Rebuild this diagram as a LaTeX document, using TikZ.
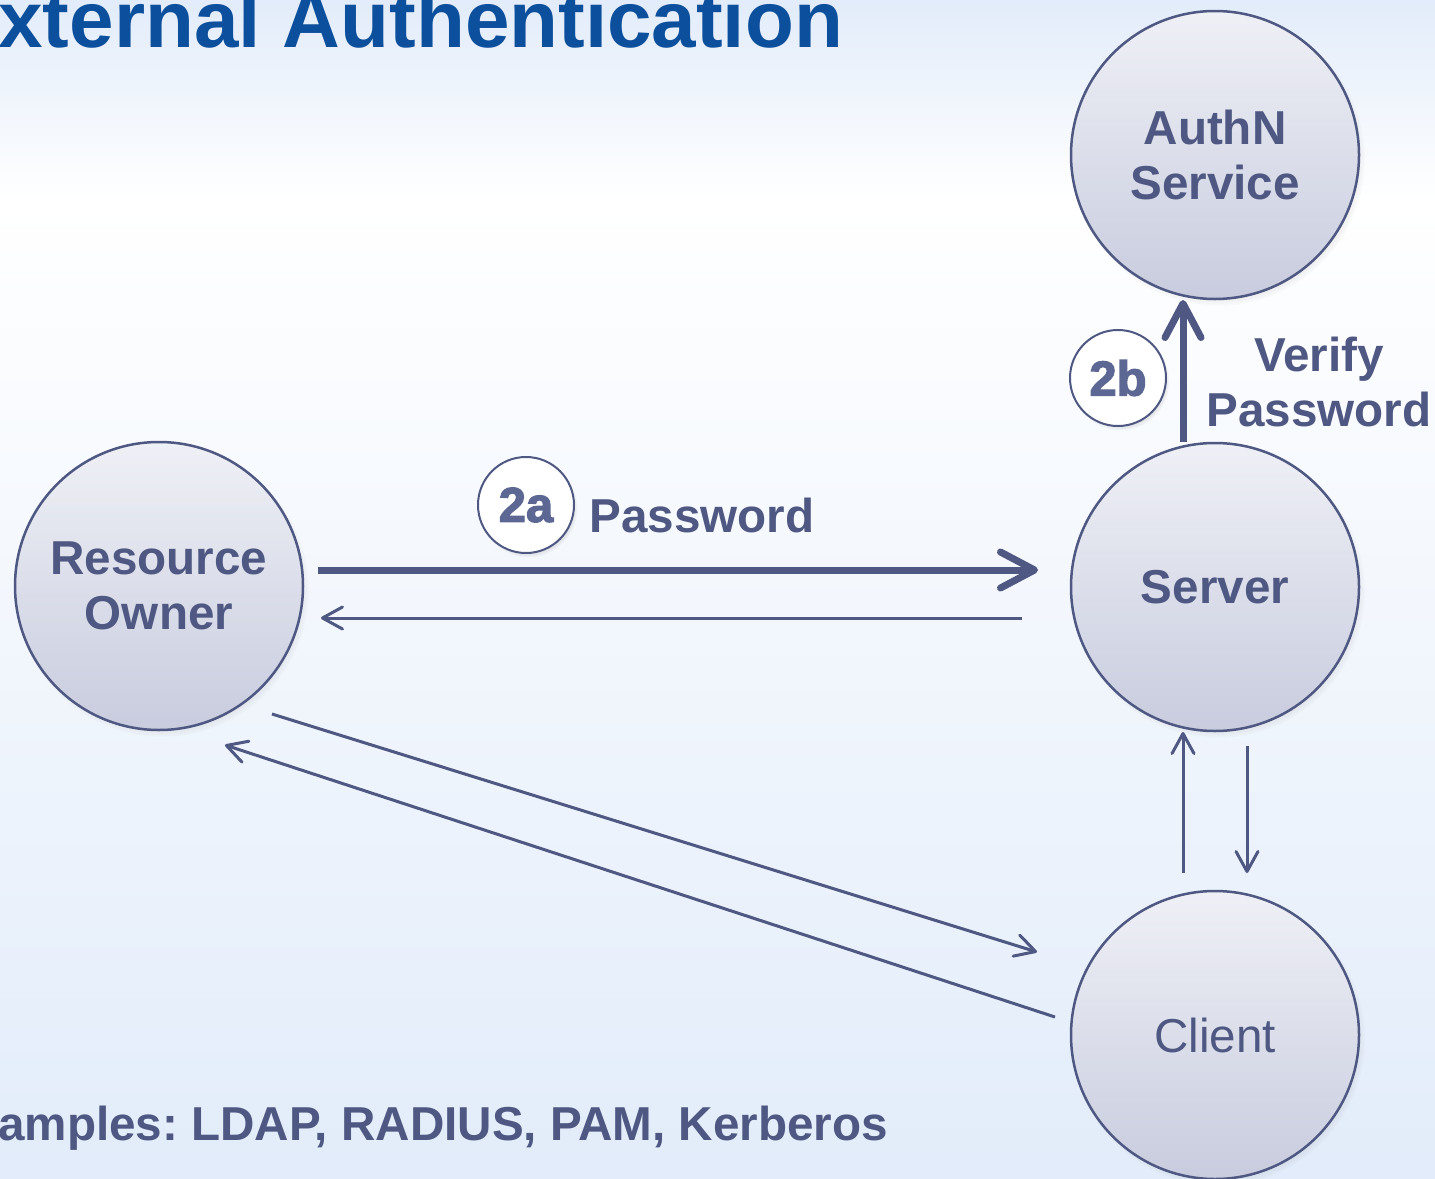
\documentclass[tikz,border=0pt]{standalone}
\usepackage{fontspec}
\setmainfont{Liberation Sans}
\newfontfamily\badgefont[FakeBold=2.5]{Liberation Sans Bold}
\usetikzlibrary{arrows.meta,shadows,calc}
\definecolor{ink}{RGB}{78,88,130}
\definecolor{badgeink}{RGB}{92,103,147}
\definecolor{titleblue}{RGB}{12,79,156}
\definecolor{circtop}{RGB}{239,240,246}
\definecolor{circbot}{RGB}{200,204,222}
\definecolor{bgblue}{RGB}{226,236,250}
\frenchspacing
\begin{document}
\begin{tikzpicture}[x=0.5pt,y=-0.5pt,
  actor/.style={circle, draw=ink, line width=1.25pt, minimum size=144pt, inner sep=0pt,
    top color=circtop, bottom color=circbot, text=ink, align=center,
    font=\fontsize{23.8}{27.5}\selectfont\bfseries,
    circular drop shadow={shadow xshift=1.5pt, shadow yshift=-2pt, shadow scale=1.02, opacity=0.35}},
  badge/.style={circle, draw=ink, line width=1pt, fill=white, minimum size=48pt, inner sep=0pt,
    text=badgeink, font=\badgefont\fontsize{24.5}{24.5}\selectfont,
    circular drop shadow={shadow xshift=1pt, shadow yshift=-1.5pt, shadow scale=1.03, opacity=0.3}},
  lbl/.style={text=ink, inner sep=0pt, align=center, font=\fontsize{23.8}{27.5}\selectfont\bfseries},
  thickflow/.style={draw=ink, line width=3.5pt, -{Straight Barb[length=17pt,width=18pt,round]}},
  thinflow/.style={draw=ink, line width=1.5pt, -{Straight Barb[length=10pt,width=11pt,round]}}
]
\useasboundingbox (0,0) rectangle (1435,1178);
% background
\fill[top color=bgblue, bottom color=white] (0,0) rectangle (1435,200);
\fill[top color=white, middle color=white, bottom color=bgblue] (0,200) rectangle (1435,1178);

% title and footer
\node[anchor=base west, inner sep=0pt, text=titleblue, font=\fontsize{40}{40}\selectfont\bfseries] (title) at (-2,47) {xternal Authentication};
\node[anchor=base west, inner sep=0pt, text=ink, font=\fontsize{23.8}{27.5}\selectfont\bfseries] (examples) at (-2,1140) {amples: LDAP, RADIUS, PAM, Kerberos};

% actors
\node[actor] (auth) at (1215,155) {AuthN\\Service};
\node[actor] (server) at (1215,587) {Server};
\node[actor, font=\fontsize{23.8}{27.5}\selectfont] (client) at (1215,1035) {Client};
\node[actor] (ro) at (159,586) {Resource\\Owner};

% badges and labels
\node[badge] (b2a) at (526,505) {2a};
\node[lbl, anchor=base west] (lblpw) at (589,532) {Password};
\node[badge] (b2b) at (1118,378) {2b};
\node[lbl, anchor=center] (lblverify) at (1319,382) {Verify\\Password};

% connector end points
\coordinate (p1s) at ($(ro.center)+(159,-16)$);
\coordinate (p1e) at ($(server.center)+(-177,-17)$);
\coordinate (p2s) at ($(server.center)+(-193,31)$);
\coordinate (p2e) at ($(ro.center)+(162,32)$);
\coordinate (p3s) at ($(server.center)+(-32,-145)$);
\coordinate (p3e) at ($(auth.center)+(-32,145)$);
\coordinate (p4s) at ($(client.center)+(-32,-162)$);
\coordinate (p4e) at ($(server.center)+(-32,145)$);
\coordinate (p5s) at ($(server.center)+(32,159)$);
\coordinate (p5e) at ($(client.center)+(32,-162)$);
\coordinate (p6s) at ($(ro.center)+(113,128)$);
\coordinate (p6e) at ($(client.center)+(-178,-83)$);
\coordinate (p7s) at ($(client.center)+(-160,-18)$);
\coordinate (p7e) at ($(ro.center)+(66,159)$);

% connectors
\draw[thickflow] (p1s) -- (p1e);
\draw[thinflow] (p2s) -- (p2e);
\draw[thickflow] (p3s) -- (p3e);
\draw[thinflow] (p4s) -- (p4e);
\draw[thinflow] (p5s) -- (p5e);
\draw[thinflow] (p6s) -- (p6e);
\draw[thinflow] (p7s) -- (p7e);
\end{tikzpicture}
\end{document}
